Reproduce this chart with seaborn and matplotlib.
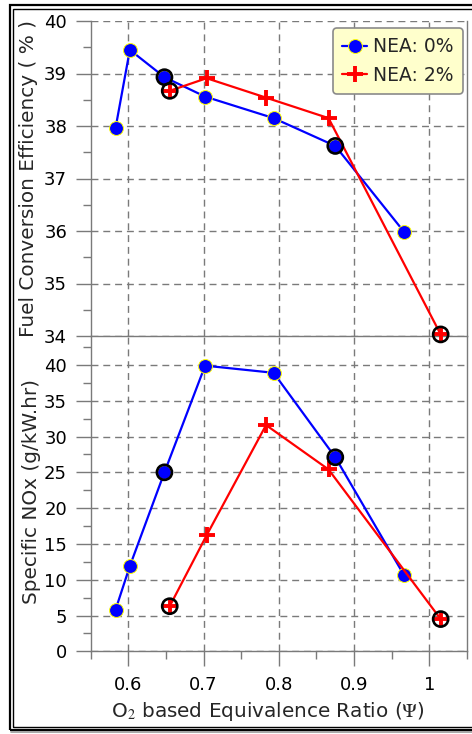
import matplotlib
matplotlib.use("Agg")
import matplotlib.pyplot as plt
import seaborn as sns
import pandas as pd
from matplotlib.patches import Rectangle
from matplotlib.lines import Line2D
from matplotlib.ticker import MultipleLocator

# ---------------- data ----------------
phi_nea0 = [0.583, 0.602, 0.648, 0.702, 0.793, 0.875, 0.966]
fce_nea0 = [37.96, 39.45, 38.93, 38.56, 38.15, 37.62, 35.99]
nox_nea0 = [5.8, 11.9, 25.0, 39.9, 38.9, 27.1, 10.7]

phi_nea2 = [0.655, 0.704, 0.783, 0.866, 1.015]
fce_nea2 = [38.67, 38.91, 38.54, 38.15, 34.03]
nox_nea2 = [6.3, 16.2, 31.6, 25.4, 4.5]

circled_nea0 = [2, 5]   # indices of highlighted points
circled_nea2 = [0, 4]

series_labels = ["NEA: 0%", "NEA: 2%"]
ylabel_top = "Fuel Conversion Efficiency ( % )"
ylabel_bot = "Specific NOx (g/kW.hr)"
xlabel = r"O$_2$ based Equivalence Ratio ($\Psi$)"

df0 = pd.DataFrame({"phi": phi_nea0, "fce": fce_nea0, "nox": nox_nea0})
df2 = pd.DataFrame({"phi": phi_nea2, "fce": fce_nea2, "nox": nox_nea2})
ring_df = pd.concat([df0.iloc[circled_nea0], df2.iloc[circled_nea2]])

# ---------------- style ----------------
sns.set_theme(style="white")
plt.rcParams["font.family"] = ["DejaVu Sans"]
plt.rcParams["mathtext.fontset"] = "stix"

W, H = 472, 734
fig = plt.figure(figsize=(W / 100, H / 100), dpi=100)
fig.patch.set_facecolor("white")

L = 90.7 / W
AW = (467 - 90.7) / W
AH = 315 / H
ax1 = fig.add_axes([L, 1 - 336 / H, AW, AH])
ax2 = fig.add_axes([L, 1 - 651.3 / H, AW, AH])
ax2.patch.set_facecolor("none")

GREY = "#7a7a7a"
BLUE = "#0000ff"
RED = "#ff0000"
TICK_FS = 13
LABEL_FS = 14.4

for ax, ycol in ((ax1, "fce"), (ax2, "nox")):
    sns.lineplot(data=df0, x="phi", y=ycol, ax=ax, color=BLUE, lw=1.6,
                 marker="o", markersize=10, markeredgecolor="#ffff00",
                 markeredgewidth=0.7, markerfacecolor=BLUE, zorder=3,
                 label=series_labels[0], clip_on=False)
    sns.lineplot(data=df2, x="phi", y=ycol, ax=ax, color=RED, lw=1.6,
                 marker="+", markersize=11, markeredgewidth=2.8,
                 markeredgecolor=RED, zorder=3, label=series_labels[1],
                 clip_on=False)
    sns.scatterplot(data=ring_df, x="phi", y=ycol, ax=ax, s=118,
                    facecolor="none", edgecolor="black", linewidth=1.9,
                    zorder=4, legend=False, clip_on=False)

    ax.set_xlim(0.55, 1.05)
    ax.xaxis.set_major_locator(MultipleLocator(0.1))
    ax.xaxis.set_minor_locator(MultipleLocator(0.05))
    ax.grid(True, which="major", color=GREY, ls=(0, (5, 3.5)), lw=1.0)
    ax.set_axisbelow(True)
    for s in ("left", "bottom", "right"):
        ax.spines[s].set_color(GREY)
        ax.spines[s].set_linewidth(1.0)
    ax.spines["top"].set_visible(False)
    ax.tick_params(axis="y", which="major", direction="out", length=10.5,
                   width=1.0, color=GREY, labelsize=TICK_FS, pad=6.5,
                   labelcolor="black", left=True)
    ax.tick_params(axis="y", which="minor", direction="out", length=5.5,
                   width=1.0, color=GREY, left=True)
    ax.set_xlabel("")
    ax.set_ylabel("")

# top panel
ax1.set_ylim(34, 40)
ax1.yaxis.set_major_locator(MultipleLocator(1))
ax1.yaxis.set_minor_locator(MultipleLocator(0.5))
ax1.tick_params(axis="x", which="both", length=0, labelbottom=False)
ax1.set_ylabel(ylabel_top, fontsize=LABEL_FS)
ax1.yaxis.set_label_coords(-0.140, 0.5)
ax1.set_zorder(2)
ax1.patch.set_facecolor("none")

leg = ax1.legend(loc="upper right", bbox_to_anchor=(0.99, 0.978),
                 fontsize=13.5, frameon=True, fancybox=True,
                 facecolor="#ffffcc", edgecolor="#8a8a8a", framealpha=1,
                 handlelength=1.3, handletextpad=0.35, labelspacing=0.5,
                 borderpad=0.5, borderaxespad=0)
leg.get_frame().set_linewidth(1.2)
leg.set_zorder(10)

# bottom panel
ax2.set_ylim(0, 44)
ax2.yaxis.set_major_locator(MultipleLocator(5))
ax2.yaxis.set_minor_locator(MultipleLocator(2.5))
ax2.tick_params(axis="x", which="major", direction="out", length=10.5,
                width=1.0, color=GREY, labelsize=TICK_FS, pad=7,
                labelcolor="black", bottom=True)
ax2.tick_params(axis="x", which="minor", direction="out", length=5.5,
                width=1.0, color=GREY, bottom=True)
ax2.xaxis.set_major_formatter(plt.FuncFormatter(lambda v, p: f"{v:g}"))
if ax2.get_legend() is not None:
    ax2.get_legend().remove()
ax2.set_ylabel(ylabel_bot, fontsize=LABEL_FS)
ax2.yaxis.set_label_coords(-0.133, 0.507)
ax2.set_xlabel(xlabel, fontsize=LABEL_FS)
ax2.xaxis.set_label_coords(0.47, -0.155)
ax2.set_zorder(1)

# ---------------- outer double frame ----------------
def frame(x0, y0, x1, y1, lw, color="black"):
    fig.add_artist(Rectangle((x0 / W, 1 - y1 / H), (x1 - x0) / W,
                             (y1 - y0) / H, transform=fig.transFigure,
                             fill=False, lw=lw, ec=color, clip_on=False))

frame(9.7, 5.0, 490, 729.8, 1.6)
frame(13.0, 8.6, 490, 726.6, 1.0)
fig.add_artist(Line2D([11 / W, 1], [1 - 732.3 / H] * 2, transform=fig.transFigure,
                      color="#9a9a9a", lw=1.2))

fig.savefig("out.png", dpi=100, facecolor="white")
